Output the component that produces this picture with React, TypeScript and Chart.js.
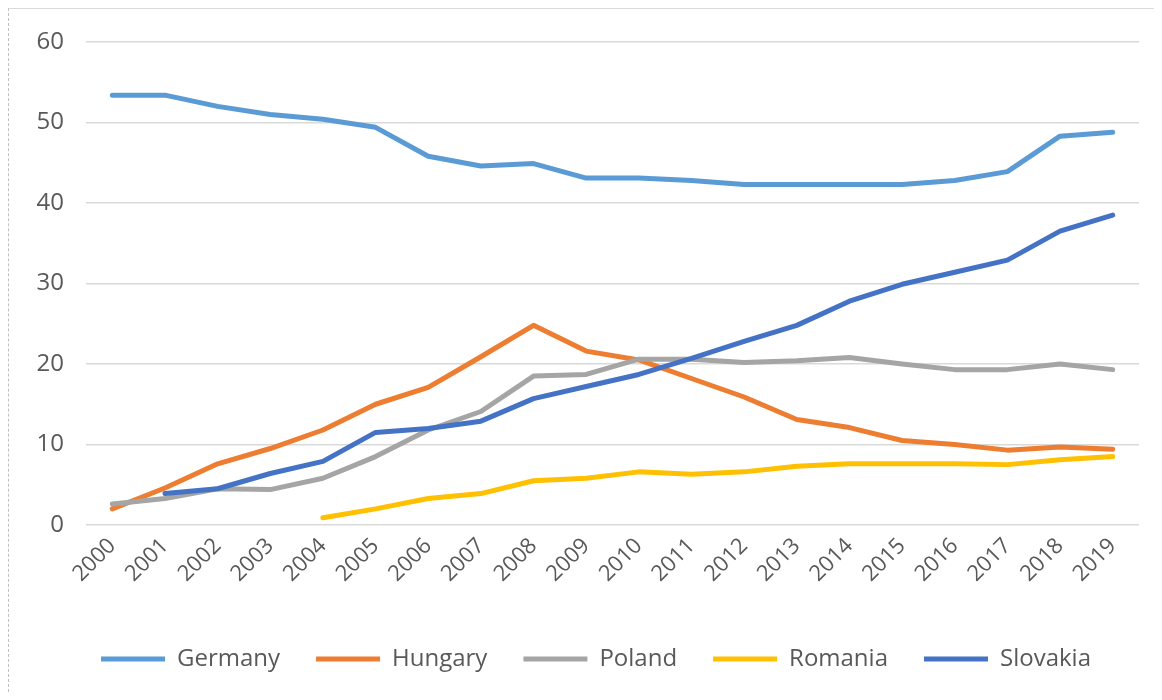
import React, { useEffect, useRef } from "react";
import { Chart, registerables } from "chart.js";
Chart.register(...registerables);

const years = ["2000","2001","2002","2003","2004","2005","2006","2007","2008","2009","2010","2011","2012","2013","2014","2015","2016","2017","2018","2019"];
const germany = [53.4,53.4,52.0,51.0,50.4,49.4,45.8,44.6,44.9,43.1,43.1,42.8,42.3,42.3,42.3,42.3,42.8,43.9,48.3,48.8];
const hungary = [2.0,4.6,7.6,9.5,11.8,15.0,17.1,20.9,24.8,21.6,20.5,18.2,15.9,13.1,12.1,10.5,10.0,9.3,9.7,9.4];
const poland = [2.6,3.3,4.5,4.4,5.8,8.5,11.8,14.1,18.5,18.7,20.6,20.6,20.2,20.4,20.8,20.0,19.3,19.3,20.0,19.3];
const romania = [null,null,null,null,0.9,2.0,3.3,3.9,5.5,5.8,6.6,6.3,6.6,7.3,7.6,7.6,7.6,7.5,8.1,8.5];
const slovakia = [null,3.9,4.5,6.4,7.9,11.5,12.0,12.9,15.7,17.2,18.7,20.7,22.8,24.8,27.8,29.9,31.4,32.9,36.5,38.5];

const seriesNames = ["Germany","Hungary","Poland","Romania","Slovakia"];
const seriesColors = ["#5B9BD5","#ED7D31","#A5A5A5","#FFC000","#4472C4"];
const yTicks = [0,10,20,30,40,50,60];

const FONT = "'Open Sans', 'Liberation Sans', sans-serif";
const TEXT = "#595959";

const shiftLegend = {
  id: "shiftLegend",
  afterLayout(chart: any) {
    const l = chart.legend;
    if (l) {
      l.left += 22;
      l.right += 22;
    }
  },
};

export default function App() {
  const ref = useRef<HTMLCanvasElement>(null);
  useEffect(() => {
    const values = [germany, hungary, poland, romania, slovakia];
    const chart = new Chart(ref.current!, {
      type: "line",
      data: {
        labels: years,
        datasets: values.map((v, i) => ({
          label: seriesNames[i],
          data: v,
          borderColor: seriesColors[i],
          backgroundColor: seriesColors[i],
          borderWidth: 5,
          pointRadius: 0,
          pointHoverRadius: 0,
          tension: 0,
          borderCapStyle: "round" as const,
          borderJoinStyle: "round" as const,
          fill: false,
          order: values.length - i,
        })),
      },
      plugins: [shiftLegend],
      options: {
        animation: false,
        responsive: true,
        maintainAspectRatio: false,
        layout: { padding: { top: 33, right: 15, bottom: 11, left: 0 } },
        plugins: {
          tooltip: { enabled: false },
          legend: {
            position: "bottom",
            labels: {
              boxWidth: 64,
              boxHeight: 5,
              padding: 36,
              color: TEXT,
              font: { family: FONT, size: 24 },
              sort: (a: any, b: any) => a.datasetIndex - b.datasetIndex,
              generateLabels: (c: any) =>
                c.data.datasets.map((d: any, i: number) => ({
                  text: d.label,
                  fillStyle: d.borderColor,
                  strokeStyle: d.borderColor,
                  lineWidth: 0,
                  fontColor: TEXT,
                  hidden: false,
                  datasetIndex: i,
                })),
            },
          },
        },
        scales: {
          x: {
            type: "category",
            offset: true,
            grid: { display: false, drawTicks: false },
            border: { display: false },
            ticks: {
              autoSkip: false,
              maxRotation: 45,
              minRotation: 45,
              padding: 8,
              color: TEXT,
              font: { family: FONT, size: 22 },
            },
            afterFit: (s: any) => { s.height = 86; },
          },
          y: {
            min: 0,
            max: 60,
            afterBuildTicks: (s: any) => { s.ticks = yTicks.map((v) => ({ value: v })); },
            grid: { color: "#d9d9d9", lineWidth: 1.5, drawTicks: false },
            border: { display: false },
            ticks: {
              padding: 22,
              color: TEXT,
              font: { family: FONT, size: 24 },
            },
            afterFit: (s: any) => {
              s.width = 77;
              s.paddingTop = 0;
              s.paddingBottom = 0;
            },
          },
        },
      },
    });
    return () => chart.destroy();
  }, []);
  return (
    <div
      style={{
        position: "relative",
        width: 1146,
        height: 684,
        boxSizing: "border-box",
        borderTop: "1px solid #d9d9d9",
        borderLeft: "1px dashed #c0c0c0",
      }}
    >
      <canvas ref={ref} />
    </div>
  );
}
